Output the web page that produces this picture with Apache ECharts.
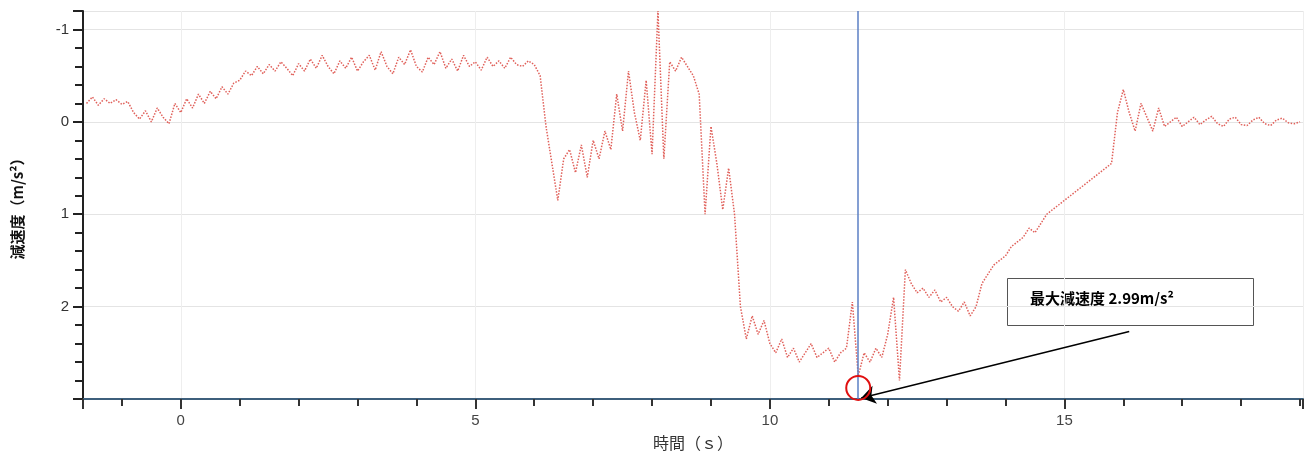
<!DOCTYPE html>
<html>
<head>
<meta charset="utf-8">
<script src="https://cdn.jsdelivr.net/npm/echarts@6/dist/echarts.min.js"></script>
<style>html,body{margin:0;padding:0;background:#fff}#main{width:1307px;height:459px}</style>
</head>
<body>
<div id="main"></div>
<script>
// 減速度の記録 (0.1s 刻み, t = -1.6 〜 19.0)
const startTime = -1.6
const timeStep = 0.1
const decel = [
  -0.2, -0.27, -0.18, -0.25, -0.2, -0.24, -0.19, -0.22, -0.1, -0.03, -0.12, 0.0, -0.15, -0.05, 0.02, -0.2,
  -0.1, -0.25, -0.15, -0.3, -0.2, -0.33, -0.25, -0.38, -0.3, -0.42,
  -0.45, -0.55, -0.5, -0.6, -0.52, -0.62, -0.55, -0.65, -0.58, -0.5,
  -0.63, -0.55, -0.68, -0.58, -0.72, -0.6, -0.52, -0.66, -0.58, -0.7,
  -0.55, -0.65, -0.72, -0.56, -0.76, -0.6, -0.52, -0.7, -0.62, -0.78,
  -0.6, -0.54, -0.7, -0.62, -0.76, -0.58, -0.68, -0.55, -0.72, -0.6,
  -0.65, -0.56, -0.7, -0.6, -0.66, -0.58, -0.7, -0.62, -0.6, -0.66,
  -0.62, -0.5, 0.05, 0.45, 0.85, 0.4, 0.3, 0.55, 0.25, 0.6,
  0.2, 0.4, 0.1, 0.3, -0.3, 0.1, -0.55, -0.1, 0.2, -0.45,
  0.35, -1.2, 0.4, -0.65, -0.55, -0.7, -0.6, -0.5, -0.3, 1.0,
  0.05, 0.45, 0.95, 0.5, 1.0, 2.0, 2.35, 2.1, 2.3, 2.15,
  2.4, 2.5, 2.35, 2.55, 2.45, 2.6, 2.5, 2.4, 2.55, 2.5,
  2.45, 2.6, 2.5, 2.45, 1.95, 2.75, 2.5, 2.6, 2.45, 2.55,
  2.3, 1.9, 2.8, 1.6, 1.75, 1.85, 1.8, 1.9, 1.82, 1.95,
  1.9, 2.0, 2.05, 1.95, 2.1, 2.0, 1.75, 1.65, 1.55, 1.5,
  1.45, 1.35, 1.3, 1.25, 1.15, 1.2, 1.1, 1.0, 0.95, 0.9,
  0.85, 0.8, 0.75, 0.7, 0.65, 0.6, 0.55, 0.5, 0.45, -0.1,
  -0.35, -0.1, 0.1, -0.2, -0.05, 0.1, -0.15, 0.05, 0.0, -0.05,
  0.05, 0.0, -0.05, 0.03, -0.02, -0.06, 0.02, 0.05, -0.03, -0.05,
  0.03, 0.04, -0.02, -0.05, 0.02, 0.04, -0.02, -0.04, 0.01, 0.02,
  0.0
]
const maxTime = 11.5
const maxDecel = 2.99
const arrowStart = [16.1, 2.27]
const noteText = '最大減速度 2.99m/s²'

const seriesData = decel.map((v, i) => [+(startTime + i * timeStep).toFixed(2), v])

const chart = echarts.init(document.getElementById('main'))
const font = '"Noto Sans CJK JP", sans-serif'

chart.setOption({
  animation: false,
  grid: { left: 83, right: 4, top: 11, bottom: 60 },
  xAxis: {
    type: 'value',
    min: -1.66,
    max: 19.05,
    splitNumber: 4,
    name: '時間（ｓ）',
    nameLocation: 'middle',
    nameGap: 36,
    nameTextStyle: { fontSize: 16, color: '#333', fontFamily: font },
    axisLine: { onZero: false, lineStyle: { color: '#3e5f7c', width: 2 } },
    axisTick: { length: 10, lineStyle: { color: '#333', width: 2 } },
    minorTick: { show: true, splitNumber: 5, length: 7, lineStyle: { color: '#333', width: 2 } },
    axisLabel: { fontSize: 15, color: '#444', showMinLabel: false, showMaxLabel: false, margin: 14 },
    splitLine: { show: true, lineStyle: { color: '#eee' } }
  },
  yAxis: {
    type: 'value',
    inverse: true,
    min: -1.2,
    max: 3,
    splitNumber: 4,
    name: '減速度（m/s²）',
    nameLocation: 'middle',
    nameGap: 58,
    nameTextStyle: { fontSize: 15, fontWeight: 'bold', color: '#111', fontFamily: font },
    axisLine: { onZero: false, lineStyle: { color: '#222', width: 2 } },
    axisTick: { length: 10, lineStyle: { color: '#222', width: 2 } },
    minorTick: { show: true, splitNumber: 5, length: 8, lineStyle: { color: '#222', width: 2 } },
    axisLabel: { fontSize: 15, color: '#333', showMinLabel: false, showMaxLabel: false, margin: 14 },
    splitLine: { show: true, lineStyle: { color: '#e4e4e4' } }
  },
  series: [
    {
      type: 'line',
      data: seriesData,
      showSymbol: false,
      lineStyle: { color: '#e0605a', width: 1.5, type: 'dotted' },
      markLine: {
        silent: true,
        symbol: ['none', 'none'],
        label: { show: false },
        data: [
          { xAxis: maxTime, lineStyle: { color: '#5b7fc4', width: 1.5, type: 'solid' } },
          [
            { coord: arrowStart, symbol: 'none' },
            { coord: [maxTime + 0.05, maxDecel], symbol: 'arrow', symbolSize: 14 }
          ]
        ],
        lineStyle: { color: '#000', width: 1.5, type: 'solid' }
      },
      markPoint: {
        silent: true,
        data: [{ coord: [maxTime, 2.88], symbol: 'circle', symbolSize: 24,
          itemStyle: { color: 'rgba(0,0,0,0)', borderColor: '#e01010', borderWidth: 2 },
          label: { show: false } }]
      }
    }
  ],
  graphic: [
    { type: 'rect', left: 83, top: 11, shape: { width: 1220, height: 1 }, style: { fill: '#222' } },
    { type: 'rect', left: 1007, top: 278,
      shape: { width: 246, height: 47 },
      style: { fill: '#fff', stroke: '#555', lineWidth: 1 } },
    { type: 'text', left: 1030, top: 291,
      style: { text: noteText, font: 'bold 15px "Noto Sans CJK JP", sans-serif', fill: '#000' } }
  ]
})
</script>
</body>
</html>
